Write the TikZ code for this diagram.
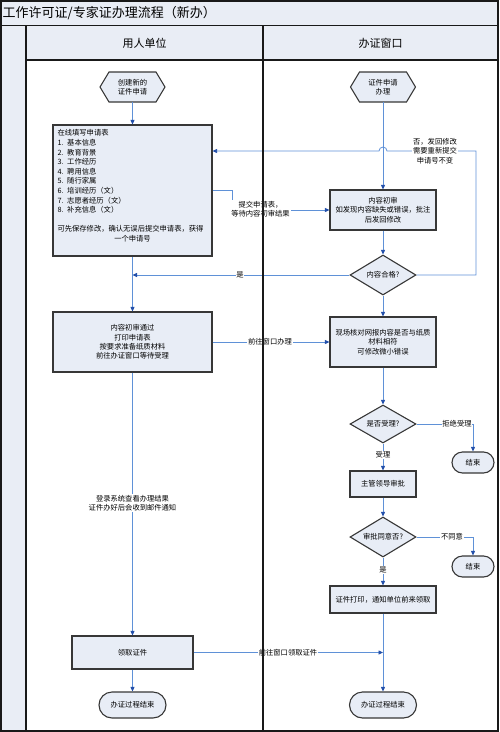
\documentclass[tikz,border=0pt]{standalone}
\usepackage{fontspec}
\setmainfont{Noto Sans CJK SC}
\usetikzlibrary{arrows.meta,shapes.geometric,shapes.misc}
\definecolor{boxfill}{RGB}{232,237,246}
\definecolor{boxline}{RGB}{55,55,55}
\definecolor{linkblue}{RGB}{95,145,215}
\definecolor{tipblue}{RGB}{35,80,170}
\definecolor{framefill}{RGB}{233,237,245}
\newcommand\nf{\fontsize{7.3}{9.4}\selectfont}
\newcommand\hexshape[2]{\draw[draw=boxline,fill=boxfill,line width=1.1pt] (#1-32.5,#2) -- (#1-23.5,#2-15) -- (#1+23.5,#2-15) -- (#1+32.5,#2) -- (#1+23.5,#2+15) -- (#1-23.5,#2+15) -- cycle;}
\begin{document}
\begin{tikzpicture}[x=1pt,y=-1pt,
  proc/.style={rectangle,draw=boxline,fill=boxfill,line width=1.1pt,inner sep=0pt,align=center,font=\nf},
  dec/.style={diamond,aspect=1.65,draw=boxline,fill=boxfill,line width=1.1pt,inner sep=0pt,align=center,font=\nf,minimum width=66pt,minimum height=40pt},
  term/.style={rounded rectangle,draw=boxline,fill=boxfill,line width=1.1pt,inner sep=0pt,align=center,font=\nf},
  hexbox/.style={rectangle,inner sep=0pt,align=center,font=\nf,minimum width=65pt,minimum height=30pt},
  lbl/.style={fill=white,inner sep=0.8pt,align=center,font=\nf},
  link/.style={draw=linkblue,line width=0.8pt},
  arr/.style={link,-{Triangle[length=4.5pt,width=4pt,color=tipblue]}},
  frame/.style={draw=black!90,line width=1.5pt},
]
\useasboundingbox (0,0) rectangle (500,732);
% frame fills
\fill[framefill] (0,0) rectangle (498,25.5);
\fill[framefill] (0,25.5) rectangle (26,731);
\fill[framefill] (26,25.5) rectangle (498,60);
\node[anchor=west,font=\fontsize{13}{15}\selectfont,inner sep=0pt] (title) at (2.5,13) {工作许可证/专家证办理流程（新办）};
\node[font=\fontsize{11}{13}\selectfont,inner sep=0pt] (lane1) at (144.5,43) {用人单位};
\node[font=\fontsize{11}{13}\selectfont,inner sep=0pt] (lane2) at (380.5,43) {办证窗口};

% nodes, left lane
\hexshape{132.5}{87}
\node[hexbox] (h1) at (132.5,87) {创建新的\\证件申请};
\node[proc,minimum width=159pt,minimum height=131pt] (b1) at (132.5,190.5) {};
\node[font=\fontsize{7.3}{9.6}\selectfont,text width=150pt,align=left,inner sep=0pt] (b1t) at (132.5,186) {在线填写申请表\\1. 基本信息\\2. 教育背景\\3. 工作经历\\4. 聘用信息\\5. 随行家属\\6. 培训经历（文）\\7. 志愿者经历（文）\\8. 补充信息（文）\\[9.6pt]可先保存修改，确认无误后提交申请表，获得\\\makebox[150pt]{一个申请号}};
\node[proc,minimum width=159pt,minimum height=60pt] (b2) at (132.5,342) {内容初审通过\\打印申请表\\按要求准备纸质材料\\前往办证窗口等待受理};
\node[proc,minimum width=121pt,minimum height=33pt] (b3) at (132.5,652.5) {领取证件};
\node[term,minimum width=67pt,minimum height=26pt] (t1) at (132.5,705) {办证过程结束};

% nodes, right lane
\hexshape{383}{87}
\node[hexbox] (h2) at (383,87) {证件申请\\办理};
\node[proc,minimum width=106pt,minimum height=40pt] (p1) at (383,210) {内容初审\\如发现内容缺失或错误，批注\\后发回修改};
\node[dec] (d1) at (383,275) {内容合格?};
\node[proc,minimum width=106pt,minimum height=50pt] (p2) at (383,342) {现场核对网报内容是否与纸质\\材料相符\\可修改微小错误};
\node[dec,minimum height=38pt] (d2) at (383,424) {是否受理?};
\node[term,minimum width=42pt,minimum height=21pt] (e1) at (473,462.5) {结束};
\node[proc,minimum width=66pt,minimum height=26pt] (p3) at (383,484) {主管领导审批};
\node[dec] (d3) at (383,537) {审批同意否?};
\node[term,minimum width=42pt,minimum height=21pt] (e2) at (473,566.5) {结束};
\node[proc,minimum width=106pt,minimum height=27pt] (p4) at (383,599.5) {证件打印，通知单位前来领取};
\node[term,minimum width=67pt,minimum height=26pt] (t2) at (383,705) {办证过程结束};

% connectors
\coordinate (loopA) at (476,151);
\draw[arr] (h1.south) -- (h1.south |- b1.north);
\draw[arr] (b1.south) -- (b2.north);
\draw[arr] (b2.south) -- (b3.north);
\draw[arr] (b3.south) -- (t1.north);
\draw[arr] (h2.south) -- (p1.north);
\draw[arr] (p1.south) -- (d1.north);
\draw[arr] (d1.south) -- (p2.north);
\draw[arr] (p2.south) -- (d2.north);
\draw[arr] (d2.south) -- (p3.north);
\draw[arr] (p3.south) -- (d3.north);
\draw[arr] (d3.south) -- (p4.north);
\draw[arr] (p4.south) -- (t2.north);
\draw[arr] (d1.west) -- (d1.west -| b1.south);
\draw[arr] (d1.east) -| (loopA) -- ([xshift=4pt]loopA -| h2.south) arc[start angle=0,end angle=180,radius=4pt] -- (loopA -| b1.east);
\draw[arr] (b1.east) -- ++(20,0) |- (p1.west);
\draw[arr] (b2.east) -- (p2.west);
\draw[arr] (d2.east) -| (e1.north);
\draw[arr] (d3.east) -| (e2.north);
\draw[arr] (b3.east) -- (b3.east -| p4.south);

% labels
\node[lbl] (l1) at (240,275) {是};
\node[lbl] (l2) at (435,151) {否，发回修改\\需要重新提交\\申请号不变};
\node[lbl] (l3) at (260.5,209) {提交申请表，\\等待内容初审结果};
\node[lbl] (l4) at (270,342) {前往窗口办理};
\node[lbl] (l5) at (457,424) {拒绝受理};
\node[lbl] (l6) at (383,455) {受理};
\node[lbl] (l7) at (452,537) {不同意};
\node[lbl] (l8) at (383,570) {是};
\node[lbl] (l9) at (132.5,503) {登录系统查看办理结果\\证件办好后会收到邮件通知};
\node[lbl] (l10) at (288,652.5) {前往窗口领取证件};

% frame lines
\draw[frame] (0.75,0.75) rectangle (498,731);
\draw[frame] (0.75,25.5) -- (498,25.5);
\draw[frame] (26,25.5) -- (26,731);
\draw[frame] (26,60) -- (498,60);
\draw[frame] (263,25.5) -- (263,731);
\end{tikzpicture}
\end{document}
